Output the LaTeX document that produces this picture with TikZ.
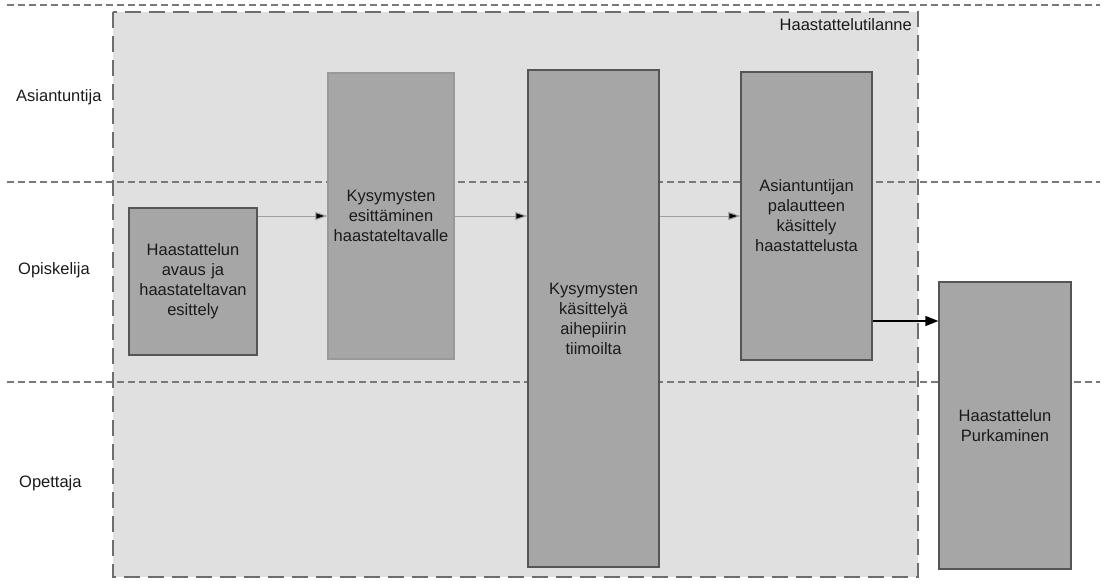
\documentclass[tikz,border=0pt]{standalone}
\usepackage{fontspec}
\setmainfont{Liberation Sans}
\usetikzlibrary{arrows.meta}
\definecolor{laneline}{HTML}{7A7A7A}
\definecolor{groupedge}{HTML}{6E6E6E}
\definecolor{groupfill}{HTML}{E0E0E0}
\definecolor{boxfill}{HTML}{A6A6A6}
\definecolor{boxedge}{HTML}{555555}
\definecolor{textcol}{HTML}{1A1A1A}
\begin{document}
\begin{tikzpicture}[x=1pt,y=-1pt,
  every node/.style={font=\fontsize{16.5}{20}\selectfont, text=textcol},
  lane/.style={draw=laneline, line width=1.5pt, dash pattern=on 7pt off 4pt},
  group/.style={draw=groupedge, line width=2.2pt, dash pattern=on 16pt off 8pt},
  stepbox/.style={draw=boxedge, line width=1.3pt, fill=boxfill, align=center,
    inner sep=2pt, text width=#1-6pt},
  lanelabel/.style={anchor=west, inner sep=0pt},
  thinflow/.style={draw=gray!75, line width=1pt, -{Triangle[length=12pt,width=8pt,fill=black]}},
  mainflow/.style={draw=black, line width=1.3pt, -{Triangle[length=13pt,width=10pt]}}
]
\useasboundingbox (0,0) rectangle (1106,587);

% interview situation group (background)
\fill[groupfill] (113,12) rectangle (918,577);

% swimlane separators
\draw[lane] (7,5) -- (1100,5);
\draw[lane] (7,182) -- (1100,182);
\draw[lane] (7,382) -- (1100,382);

% group border and title
\draw[group] (113,12) rectangle (918,577);
\node[anchor=north east, inner sep=0pt] (gt) at (912,18) {Haastattelutilanne};

% lane names
\node[lanelabel] (l1) at (16,97) {Asiantuntija};
\node[lanelabel] (l2) at (18,270) {Opiskelija};
\node[lanelabel] (l3) at (19,483) {Opettaja};

% process steps
\node[stepbox=128pt, minimum width=128pt, minimum height=147pt] (b1) at (193,281.5)
  {Haastattelun\\avaus ja\\haastateltavan\\esittely};
\node[stepbox=126pt, draw=gray!80, minimum width=126pt, minimum height=286pt] (b2) at (391,216)
  {Kysymysten\\esittäminen\\haastateltavalle};
\node[stepbox=131pt, minimum width=131pt, minimum height=497pt] (b3) at (593.5,318.5)
  {Kysymysten\\käsittelyä\\aihepiirin\\tiimoilta};
\node[stepbox=131pt, minimum width=131pt, minimum height=288pt] (b4) at (806.5,216)
  {Asiantuntijan\\palautteen\\käsittely\\haastattelusta};
\node[stepbox=132pt, minimum width=132pt, minimum height=287pt] (b5) at (1005,425.5)
  {Haastattelun\\Purkaminen};

% flow
\draw[thinflow] (b1.east |- b2.center) -- (b2.west);
\draw[thinflow] (b2.east) -- (b3.west |- b2.east);
\draw[thinflow] (b3.east |- b4.west) -- (b4.west);
\coordinate (b4out) at ([yshift=-105pt]b4.east);
\draw[mainflow] (b4out) -- (b5.west |- b4out);
\end{tikzpicture}
\end{document}
